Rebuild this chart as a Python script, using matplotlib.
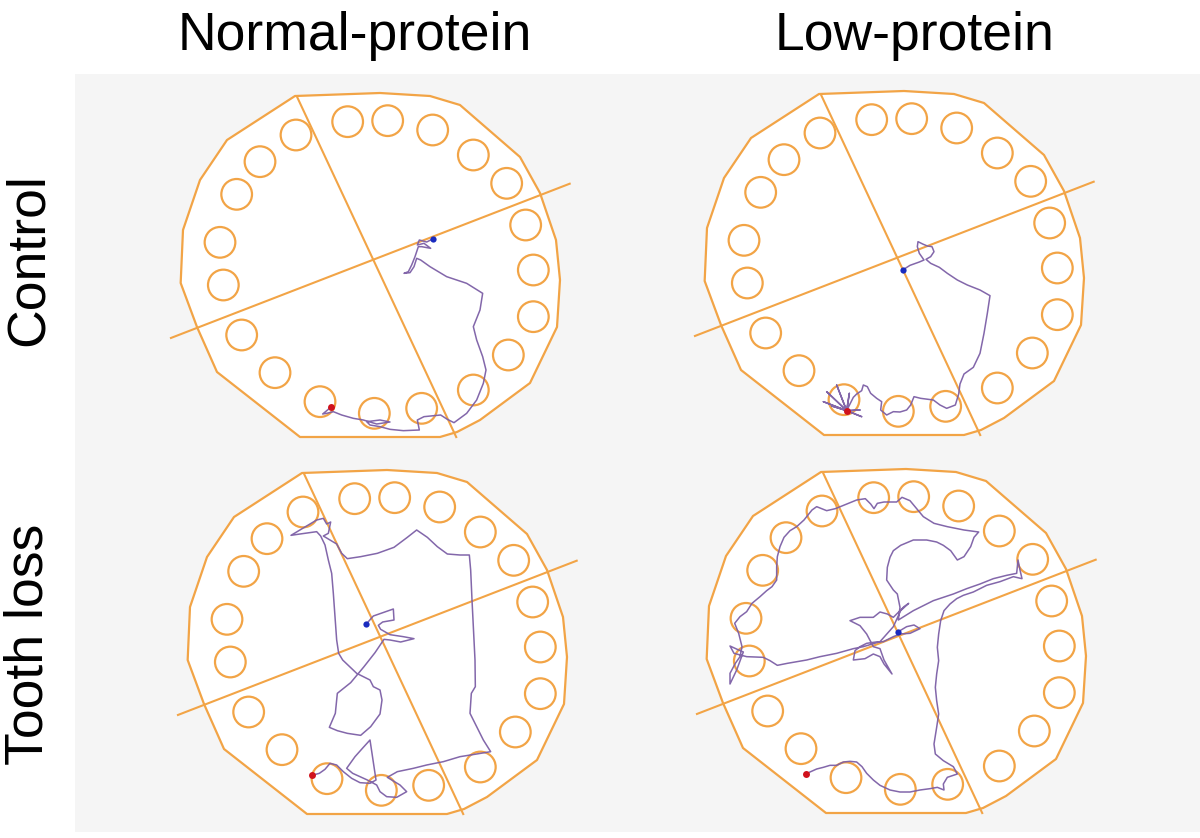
import matplotlib
matplotlib.use("Agg")
import matplotlib.pyplot as plt
from matplotlib.patches import Polygon, Circle, Rectangle

plt.rcParams['font.family'] = ['Liberation Sans', 'DejaVu Sans']

# ---------------- data (image units of each panel, 3x pixel scale) ----------------
col_titles = ["Normal-protein", "Low-protein"]
row_titles = ["Control", "Tooth loss"]

# Barnes maze hole centres (shared layout)
hole_x = [563, 683, 818, 940, 1040, 1097, 1120, 1120, 1045, 940,
          785, 643, 480, 345, 245, 190, 180, 230, 300, 408]
hole_y = [125, 122, 150, 225, 310, 435, 570, 710, 825, 930,
          985, 1000, 965, 878, 765, 615, 487, 343, 245, 165]
hole_r = 46

# table outline
board_x = [405, 660, 810, 900, 1080, 1140, 1188, 1200, 1191, 1110,
           960, 891, 840, 420, 171, 111, 62, 69, 120, 201]
board_y = [48, 39, 48, 75, 231, 339, 480, 600, 741, 909,
           1020, 1056, 1071, 1071, 876, 741, 609, 450, 300, 180]

# quadrant dividing lines
lineA_x = [410, 890]
lineA_y = [48, 1074]
lineB_x = [30, 1232]
lineB_y = [775, 310]

# tracks (blue start -> red end)
track_ctrl_normal = [(820,476),(800,486),(778,480),(772,495),(792,490),(812,505),(785,500),(775,500),
    (765,530),(755,555),(745,575),(732,580),(750,578),(762,560),(770,535),(782,540),(810,560),(860,590),
    (920,610),(968,640),(960,690),(940,740),(950,780),(968,830),(978,870),(970,910),(950,960),(920,1000),
    (882,1028),(862,1018),(842,1005),(792,1010),(772,1020),(778,1050),(730,1052),(690,1048),(660,1040),
    (630,1035),(620,1025),(660,1020),(690,1026),(650,1032),(610,1020),(580,1015),(545,1005),(520,995),
    (500,1000),(488,1002),(505,988),(512,980)]
track_ctrl_low = [(668,570),(690,556),(718,546),(732,540),(718,520),(712,500),(714,485),(728,492),
    (742,498),(756,500),(762,515),(752,530),(738,538),(752,550),(778,562),(802,580),(832,600),(862,615),
    (900,630),(930,647),(922,700),(912,760),(900,820),(880,862),(852,882),(840,912),(836,942),(826,975),
    (800,985),(780,975),(760,960),(722,955),(702,950),(692,975),(680,990),(660,996),(640,995),(620,1005),
    (602,990),(605,965),(590,955),(572,940),(562,920),(550,915),(545,932),(530,942),(520,952),(500,992),
    (440,935),(500,992),(470,915),(500,992),(430,965),(500,992),(455,978),(500,992),(508,940),(500,992),
    (540,990),(500,992),(545,1010),(500,992)]
track_tooth_normal = [(618,493),(640,468),(700,447),(702,480),(668,486),(655,496),(662,508),(690,524),
    (730,530),(762,536),(722,546),(690,540),(672,538),(645,578),(612,620),(572,668),(532,700),(526,760),
    (508,802),(532,812),(562,820),(602,826),(632,800),(660,762),(666,720),(660,690),(640,680),(630,660),
    (610,650),(590,640),(548,600),(536,580),(530,540),(525,470),(520,400),(515,340),(505,300),(495,255),
    (482,228),(470,215),(420,222),(393,226),(470,180),(490,175),(500,192),(512,186),(505,220),(490,228),
    (530,252),(545,280),(562,296),(602,290),(652,280),(702,262),(742,232),(770,210),(802,232),(832,260),
    (862,282),(900,285),(928,285),(932,330),(936,420),(940,500),(945,600),(946,680),(934,700),(930,760),
    (950,800),(970,840),(992,875),(950,882),(900,890),(850,905),(800,915),(760,925),(712,935),(682,952),
    (720,975),(740,995),(710,1012),(680,1010),(660,995),(650,975),(622,960),(600,950),(578,940),(560,925),
    (585,890),(610,862),(630,840),(636,880),(642,920),(648,960),(630,970),(600,968),(575,955),(550,935),
    (530,915),(510,910),(495,928),(478,940),(456,946)]
track_tooth_low = [(655,515),(680,500),(702,495),(720,506),(690,520),(660,522),(640,530),(610,545),
    (588,546),(560,550),(540,560),(525,572),(520,600),(555,596),(580,582),(600,590),(612,612),(628,632),
    (636,642),(612,600),(600,566),(580,560),(560,522),(540,497),(510,482),(540,472),(580,472),(600,456),
    (622,462),(640,472),(652,460),(672,440),(686,430),(662,452),(640,500),(600,545),(550,560),(520,566),
    (470,580),(420,590),(380,600),(322,610),(292,616),(270,602),(250,592),(200,590),(162,580),(150,558),
    (176,570),(190,576),(170,630),(150,672),(150,640),(166,610),(180,590),(186,560),(176,520),(164,490),
    (180,470),(200,455),(216,430),(240,410),(260,392),(276,380),(290,360),(290,320),(292,290),(300,260),
    (312,232),(330,212),(350,200),(372,180),(396,150),(410,140),(440,152),(466,146),(500,132),(530,120),
    (556,116),(572,132),(582,146),(592,130),(612,126),(650,126),(666,112),(690,122),(710,146),(730,170),
    (762,190),(802,200),(852,210),(896,216),(882,232),(872,260),(852,290),(832,300),(812,272),(790,256),
    (770,246),(740,240),(700,240),(662,256),(640,272),(630,292),(622,322),(620,360),(640,390),(652,402),
    (656,422),(660,442),(655,480),(700,452),(760,422),(820,402),(860,386),(900,372),(940,356),(980,346),
    (1010,340),(1014,300),(1020,330),(1026,356),(1000,350),(960,365),(920,376),(880,396),(850,406),
    (830,416),(810,432),(792,452),(782,482),(776,522),(772,562),(776,602),(770,642),(766,682),(770,722),
    (776,762),(770,802),(762,852),(766,882),(790,902),(820,920),(832,942),(802,952),(790,972),(792,990),
    (772,982),(750,986),(720,990),(690,996),(660,996),(630,990),(600,976),(580,960),(560,940),(546,920),
    (530,906),(510,904),(490,906),(470,916),(450,916),(430,922),(410,927),(390,936),(378,942)]

tracks = [track_ctrl_normal, track_ctrl_low, track_tooth_normal, track_tooth_low]

# ---------------- layout ----------------
W, H = 1200, 838
panel_origin = [(160, 80), (680, 80), (160, 460), (680, 460)]   # pixels
maze_shift = [(0, 0), (12, -6), (21, -9), (18, -12)]            # image units
PW, PH = 420, 370

ORANGE = '#F2A446'
PURPLE = '#7C5FA6'

fig = plt.figure(figsize=(W / 100, H / 100), dpi=100)
fig.patch.set_facecolor('white')

# light-grey backdrop behind the four panels
bg = fig.add_axes([75 / W, 1 - 832 / H, 1 - 75 / W, (832 - 74) / H], zorder=-5)
bg.set_facecolor('#F5F5F5')
bg.set_xticks([]); bg.set_yticks([])
for s in bg.spines.values():
    s.set_visible(False)

for k in range(4):
    ox, oy = panel_origin[k]
    sx, sy = maze_shift[k]
    ax = fig.add_axes([ox / W, 1 - (oy + PH) / H, PW / W, PH / H], zorder=1)
    ax.set_xlim(0, PW * 3)
    ax.set_ylim(PH * 3, 0)
    ax.axis('off')

    board = Polygon([(x + sx, y + sy) for x, y in zip(board_x, board_y)], closed=True,
                    facecolor='white', edgecolor=ORANGE, lw=1.6, joinstyle='round')
    ax.add_patch(board)
    for hx, hy in zip(hole_x, hole_y):
        ax.add_patch(Circle((hx + sx, hy + sy), hole_r, facecolor='none',
                            edgecolor=ORANGE, lw=1.6))
    ax.plot([v + sx for v in lineA_x], [v + sy for v in lineA_y], color=ORANGE, lw=1.5,
            solid_capstyle='butt', clip_on=False)
    ax.plot([v + sx for v in lineB_x], [v + sy for v in lineB_y], color=ORANGE, lw=1.5,
            solid_capstyle='butt', clip_on=False)

    tx = [p[0] for p in tracks[k]]
    ty = [p[1] for p in tracks[k]]
    ax.plot(tx, ty, color=PURPLE, lw=1.1, alpha=0.95, solid_joinstyle='round')
    ax.plot(tx[0], ty[0], 'o', color='#1a2bbf', ms=4.5, mec='none')
    ax.plot(tx[-1], ty[-1], 'o', color='#d0121c', ms=5, mec='none')

# titles
col_x = [355, 915]
for t, cx in zip(col_titles, col_x):
    fig.text(cx / W, 1 - 50 / H, t, ha='center', va='baseline', fontsize=38.5, color='black')
row_y = [260, 644]
for t, cy in zip(row_titles, row_y):
    fig.text(43 / W, 1 - cy / H, t, ha='center', va='baseline', rotation=90,
             rotation_mode='anchor', fontsize=38.5, color='black')

fig.savefig('out.png', dpi=100)
